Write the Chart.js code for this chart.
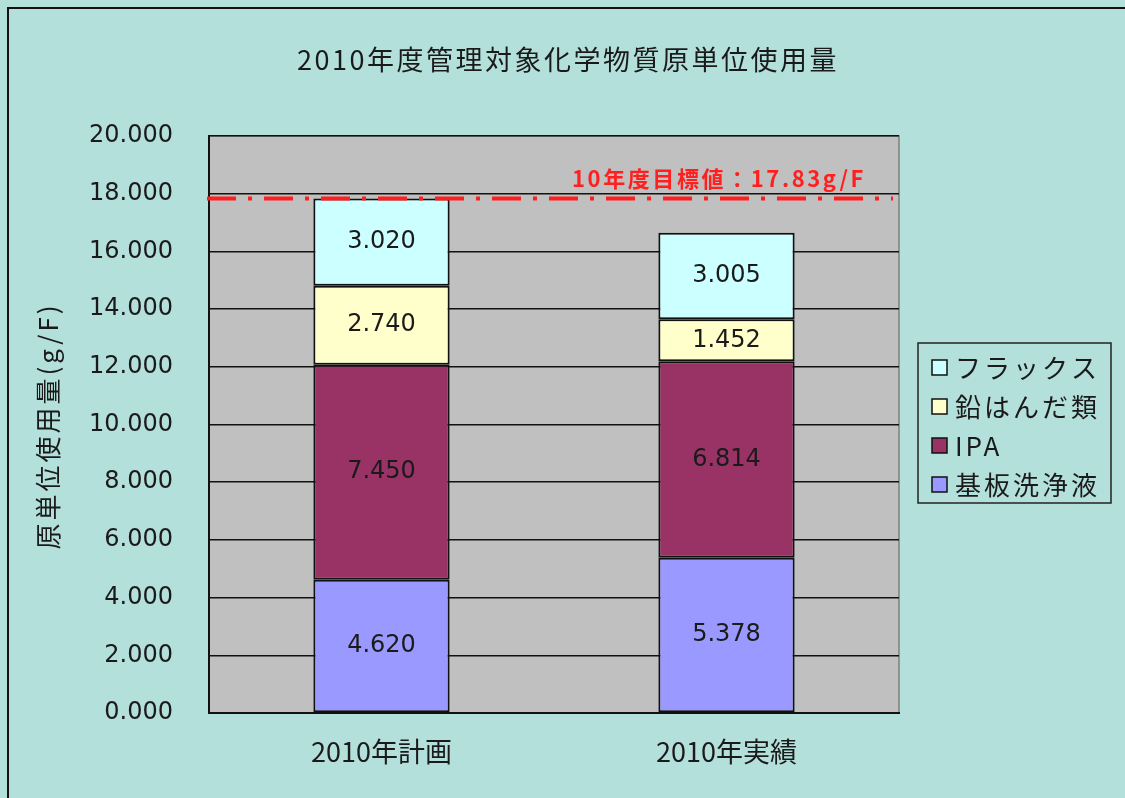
<!DOCTYPE html>
<html lang="ja">
<head>
<meta charset="utf-8">
<title>2010年度管理対象化学物質原単位使用量</title>
<script src="https://cdn.jsdelivr.net/npm/chart.js@4.4.1/dist/chart.umd.min.js"></script>
<style>
  html, body { margin: 0; padding: 0; background: #b4e0dc; }
  #wrap { width: 1125px; height: 798px; }
</style>
</head>
<body>
<div id="wrap"><canvas id="chart" width="1125" height="798"></canvas></div>
<script>
// === data ===
const categories = ["2010年計画", "2010年実績"];
const seriesNames = ["基板洗浄液", "IPA", "鉛はんだ類", "フラックス"];
const substrateCleaner = [4.620, 5.378];
const ipa = [7.450, 6.814];
const leadSolder = [2.740, 1.452];
const flux = [3.020, 3.005];
const seriesColors = ["#9999ff", "#993366", "#ffffcc", "#ccffff"];
const yMin = 0;
const yMax = 20;
const yStep = 2;
const targetValue = 17.83;
const targetLabel = "10年度目標値：17.83g/F";
const chartTitle = "2010年度管理対象化学物質原単位使用量";
const yTitle = "原単位使用量(g/F)";

const CJK = "'Noto Sans CJK JP', 'Noto Sans', sans-serif";
const NUM = "'DejaVu Sans', 'Noto Sans CJK JP', sans-serif";

// === helper: text with letter spacing ===
function spacedText(ctx, text, x, y, spacing) {
  ctx.letterSpacing = spacing + "px";
  ctx.fillText(text, x, y);
  ctx.letterSpacing = "0px";
}

// === backgrounds, plot area, frame ===
const backdrop = {
  id: "backdrop",
  beforeDraw(chart) {
    const { ctx, chartArea: a } = chart;
    ctx.save();
    ctx.fillStyle = "#b4e0dc";
    ctx.fillRect(0, 0, chart.width, chart.height);
    ctx.strokeStyle = "#111";
    ctx.lineWidth = 2;
    ctx.beginPath();
    ctx.moveTo(8, chart.height);
    ctx.lineTo(8, 8);
    ctx.lineTo(chart.width, 8);
    ctx.stroke();
    ctx.fillStyle = "#c0c0c0";
    ctx.fillRect(a.left, a.top, a.right - a.left, a.bottom - a.top);
    ctx.strokeStyle = "#808080";
    ctx.lineWidth = 1.5;
    ctx.beginPath();
    ctx.moveTo(a.left, a.top);
    ctx.lineTo(a.right, a.top);
    ctx.lineTo(a.right, a.bottom);
    ctx.stroke();
    ctx.restore();
  }
};

// === values, target line, titles, legend ===
const overlay = {
  id: "overlay",
  afterDatasetsDraw(chart) {
    const { ctx } = chart;
    ctx.save();
    ctx.font = "24px " + NUM;
    ctx.fillStyle = "#1a1a1a";
    ctx.textAlign = "center";
    ctx.textBaseline = "middle";
    chart.data.datasets.forEach((ds, i) => {
      chart.getDatasetMeta(i).data.forEach((bar, j) => {
        const mid = (bar.y + bar.base) / 2;
        ctx.fillText(ds.data[j].toFixed(3), bar.x, mid);
      });
    });
    ctx.restore();
  },
  afterDraw(chart) {
    const { ctx, chartArea: a, scales } = chart;
    ctx.save();

    // target line
    const ty = scales.y.getPixelForValue(targetValue);
    ctx.strokeStyle = "#ff1f1f";
    ctx.lineWidth = 4;
    ctx.setLineDash([29, 12, 4, 12]);
    ctx.beginPath();
    ctx.moveTo(a.left - 2, ty);
    ctx.lineTo(a.right - 6, ty);
    ctx.stroke();
    ctx.setLineDash([]);

    ctx.fillStyle = "#ff1f1f";
    ctx.font = "bold 22px " + CJK;
    ctx.textAlign = "left";
    ctx.textBaseline = "middle";
    spacedText(ctx, targetLabel, 572, ty - 20, 2.6);

    // chart title
    ctx.fillStyle = "#1a1a1a";
    ctx.font = "27px " + CJK;
    ctx.textAlign = "center";
    spacedText(ctx, chartTitle, 568, 60, 2.5);

    // y title
    ctx.save();
    ctx.translate(48, 426);
    ctx.rotate(-Math.PI / 2);
    ctx.font = "26px " + CJK;
    spacedText(ctx, yTitle, 0, 0, 3);
    ctx.restore();

    // legend (top item = last series)
    const lx = 918, ly = 343, lw = 193, lh = 160;
    ctx.strokeStyle = "#222";
    ctx.lineWidth = 1.5;
    ctx.strokeRect(lx, ly, lw, lh);
    ctx.font = "26px " + CJK;
    ctx.textAlign = "left";
    ctx.textBaseline = "middle";
    const order = chart.data.datasets.map((d, i) => i).reverse();
    order.forEach((idx, k) => {
      const ds = chart.data.datasets[idx];
      const cy = 367 + k * 39;
      ctx.fillStyle = ds.backgroundColor;
      ctx.fillRect(932, cy - 7, 15, 15);
      ctx.strokeStyle = "#111";
      ctx.lineWidth = 1.5;
      ctx.strokeRect(932, cy - 7, 15, 15);
      ctx.fillStyle = "#1a1a1a";
      spacedText(ctx, ds.label, 955, cy + 1, 3);
    });

    ctx.restore();
  }
};

const seriesValues = [substrateCleaner, ipa, leadSolder, flux];

new Chart(document.getElementById("chart"), {
  type: "bar",
  data: {
    labels: categories,
    datasets: seriesNames.map((name, i) => ({
      label: name,
      data: seriesValues[i],
      backgroundColor: seriesColors[i],
      borderColor: "#111",
      borderWidth: 2,
      borderSkipped: false,
      categoryPercentage: 1,
      barPercentage: 0.395
    }))
  },
  options: {
    responsive: false,
    animation: false,
    layout: { padding: { left: 0, right: 226, top: 136, bottom: 0 } },
    plugins: {
      legend: { display: false },
      title: { display: false },
      tooltip: { enabled: false }
    },
    scales: {
      x: {
        stacked: true,
        grid: { display: false, drawTicks: false },
        border: { display: true, color: "#111", width: 2 },
        ticks: {
          color: "#1a1a1a",
          font: { family: CJK, size: 27 },
          padding: 23
        },
        afterFit(scale) { scale.height = 85; }
      },
      y: {
        stacked: true,
        min: yMin,
        max: yMax,
        grid: { color: "#111", lineWidth: 1.5, drawTicks: false },
        border: { display: true, color: "#111", width: 2 },
        ticks: {
          stepSize: yStep,
          color: "#1a1a1a",
          font: { family: NUM, size: 24 },
          padding: 36,
          callback: (v) => Number(v).toFixed(3)
        },
        afterFit(scale) { scale.width = 209; }
      }
    }
  },
  plugins: [backdrop, overlay]
});
</script>
</body>
</html>
